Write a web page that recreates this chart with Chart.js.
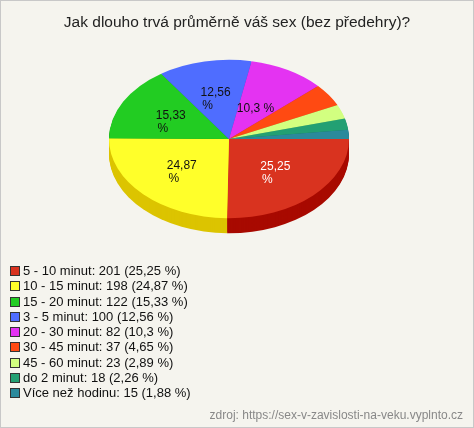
<!DOCTYPE html>
<html><head><meta charset="utf-8">
<script src="https://cdn.jsdelivr.net/npm/chart.js@4"></script>
<style>
body{margin:0;background:#fff}
#wrap{position:relative;width:472px;height:426px;background:#f5f4ee;border:1px solid #c8c8c8;font-family:"Liberation Sans",Arial,sans-serif}
canvas{position:absolute;left:0;top:0}
#title{position:absolute;left:0;width:472px;top:12px;text-align:center;font-size:15.5px;color:#222}
#legend{position:absolute;left:9px;top:262px;font-size:13px;color:#111;line-height:15.3px}
#legend div{white-space:nowrap}
#legend span{display:inline-block;width:8px;height:8px;border:1px solid #333;margin-right:3px;vertical-align:-1px}
#src{position:absolute;right:10px;top:407px;font-size:12px;color:#888}
</style></head><body>
<div id="wrap"><canvas id="c" width="472" height="426"></canvas>
<div id="title">Jak dlouho trvá průměrně váš sex (bez předehry)?</div>
<div id="legend"></div>
<div id="src">zdroj: https://sex-v-zavislosti-na-veku.vyplnto.cz</div></div>
<script>
// data
const labels = ['5 - 10 minut','10 - 15 minut','15 - 20 minut','3 - 5 minut','20 - 30 minut','30 - 45 minut','45 - 60 minut','do 2 minut','Více než hodinu'];
const counts = [201,198,122,100,82,37,23,18,15];
const percents = ['25,25','24,87','15,33','12,56','10,3','4,65','2,89','2,26','1,88'];
const colors = ['#d9331f','#ffff2a','#22cc22','#4f6dff','#e433f2','#ff4a12','#d2ff80','#23a073','#2b8a9c'];
const sides = ['#a80a00','#dcc400','#119911','#2f49c8','#a418b0','#c02e00','#a8d060','#157a55','#1c6878'];

const CX = 228, CY = 138, SY = 0.66, DEPTH = 15;

document.getElementById('legend').innerHTML = labels.map((l, i) =>
  `<div><span style="background:${colors[i]}"></span>${l}: ${counts[i]} (${percents[i]} %)</div>`).join('');

function toScreen(arc, x, y) {
  return [CX + (x - arc.x), CY + (y - arc.y) * SY];
}

const pie3d = {
  id: 'pie3d',
  beforeDatasetsDraw(chart) {
    const ctx = chart.ctx;
    const arcs = chart.getDatasetMeta(0).data;
    const a0 = arcs[0];
    ctx.save();
    ctx.translate(CX, CY);
    ctx.scale(1, SY);
    ctx.translate(-a0.x, -a0.y);
    // side walls
    for (let k = DEPTH; k >= 1; k--) {
      arcs.forEach((a, i) => {
        ctx.beginPath();
        ctx.moveTo(a.x, a.y + k / SY);
        ctx.arc(a.x, a.y + k / SY, a.outerRadius, a.startAngle, a.endAngle);
        ctx.closePath();
        ctx.fillStyle = sides[i];
        ctx.fill();
      });
    }
  },
  afterDatasetsDraw(chart) {
    const ctx = chart.ctx;
    ctx.restore();
    const arcs = chart.getDatasetMeta(0).data;
    ctx.font = '12px "Liberation Sans", Arial, sans-serif';
    ctx.textAlign = 'center';
    arcs.forEach((a, i) => {
      if (i > 4) return;
      const mid = (a.startAngle + a.endAngle) / 2;
      const f = i === 4 ? 0.45 : 0.55;
      const [x, y] = toScreen(a, a.x + Math.cos(mid) * a.outerRadius * f, a.y + Math.sin(mid) * a.outerRadius * f);
      ctx.fillStyle = i === 0 ? '#ffffff' : '#111';
      if (i === 4) {
        ctx.fillText(percents[i] + ' %', x, y + 4);
      } else {
        ctx.fillText(percents[i], x, y);
        ctx.fillText('%', x - 8, y + 13);
      }
    });
  }
};

new Chart(document.getElementById('c'), {
  type: 'pie',
  data: { labels, datasets: [{ data: counts, backgroundColor: colors, borderWidth: 0 }] },
  options: {
    responsive: false, animation: false, events: [],
    rotation: 90,
    layout: { padding: { top: 40, bottom: 146, left: 116, right: 116 } },
    plugins: { legend: { display: false }, tooltip: { enabled: false }, title: { display: false } }
  },
  plugins: [pie3d]
});
</script></body></html>
